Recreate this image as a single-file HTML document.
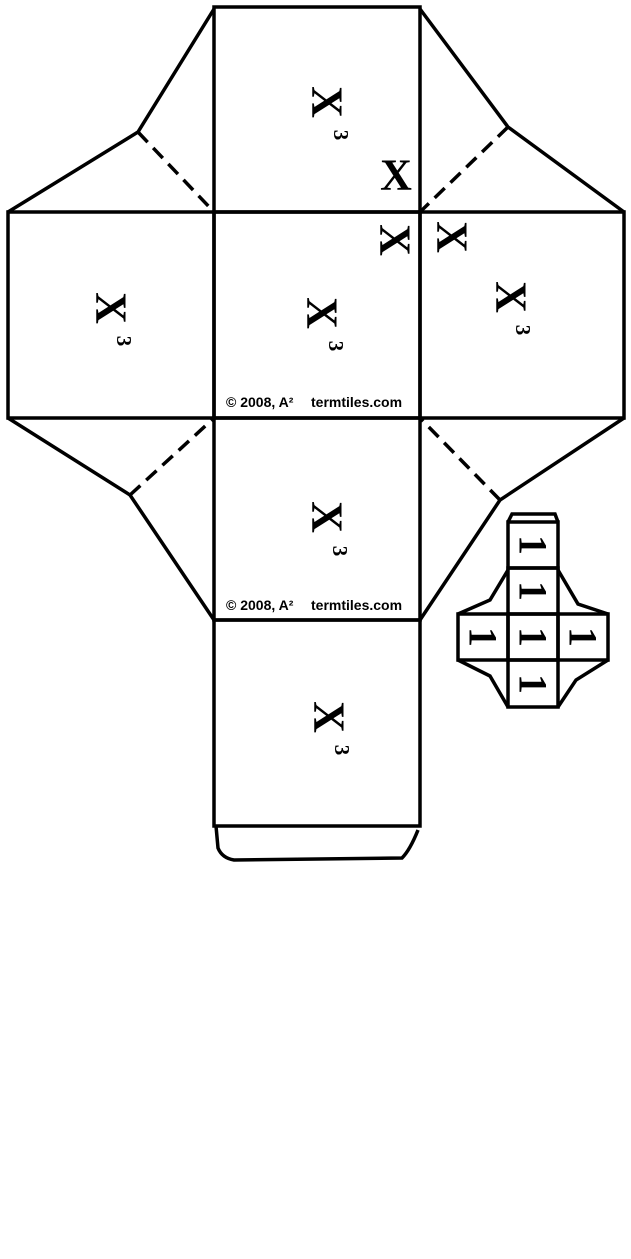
<!DOCTYPE html>
<html><head><style>
html,body{margin:0;padding:0;background:#fff;}
svg{display:block;}
.x{font-family:"Liberation Serif",serif;font-weight:bold;font-size:44px;}
.t{font-family:"Liberation Serif",serif;font-weight:bold;font-size:21px;}
.c{font-family:"Liberation Sans",sans-serif;font-weight:bold;font-size:14px;}
.o{font-family:"Liberation Serif",serif;font-weight:bold;font-size:40px;}
</style></head><body>
<svg width="631" height="1259" viewBox="0 0 631 1259" xmlns="http://www.w3.org/2000/svg">
<g fill="none" stroke="#000" stroke-width="3.5">
<rect x="214" y="7" width="206" height="205"/>
<rect x="8" y="212" width="206" height="206"/>
<rect x="214" y="212" width="206" height="206"/>
<rect x="420" y="212" width="204" height="206"/>
<rect x="214" y="418" width="206" height="202"/>
<rect x="214" y="620" width="206" height="206"/>
<path d="M216 826 L218 848 Q222 858 234 860 L402 858 Q410 850 418 830"/>
<polyline points="214,9 138,132 8,212"/>
<polyline points="420,9 508,127 624,212"/>
<polyline points="8,418 130,495 214,620"/>
<polyline points="624,418 500,500 420,620"/>
<g stroke-dasharray="14,8">
<line x1="138" y1="132" x2="214" y2="212"/>
<line x1="508" y1="127" x2="420" y2="212"/>
<line x1="130" y1="495" x2="214" y2="418"/>
<line x1="500" y1="500" x2="420" y2="418"/>
</g>
<rect x="508" y="522" width="50" height="46"/>
<rect x="508" y="568" width="50" height="46"/>
<rect x="508" y="614" width="50" height="46"/>
<rect x="508" y="660" width="50" height="47"/>
<rect x="458" y="614" width="50" height="46"/>
<rect x="558" y="614" width="50" height="46"/>
<polyline points="508,522 512,514 555,514 558,522"/>
<polyline points="508,570 490,600 458,614"/>
<polyline points="558,570 578,604 608,614"/>
<polyline points="458,660 490,676 508,707"/>
<polyline points="608,660 576,680 558,707"/>
</g>
<g fill="#000">
<text class="x" transform="translate(327,102) rotate(90)" text-anchor="middle" dominant-baseline="central">X</text>
<text class="t" transform="translate(341,135) rotate(90)" text-anchor="middle" dominant-baseline="central">3</text>
<text class="x" transform="translate(111,308) rotate(90)" text-anchor="middle" dominant-baseline="central">X</text>
<text class="t" transform="translate(124,341) rotate(90)" text-anchor="middle" dominant-baseline="central">3</text>
<text class="x" transform="translate(322,313) rotate(90)" text-anchor="middle" dominant-baseline="central">X</text>
<text class="t" transform="translate(336,346) rotate(90)" text-anchor="middle" dominant-baseline="central">3</text>
<text class="x" transform="translate(511,297) rotate(90)" text-anchor="middle" dominant-baseline="central">X</text>
<text class="t" transform="translate(523,330) rotate(90)" text-anchor="middle" dominant-baseline="central">3</text>
<text class="x" transform="translate(327,517) rotate(90)" text-anchor="middle" dominant-baseline="central">X</text>
<text class="t" transform="translate(340,551) rotate(90)" text-anchor="middle" dominant-baseline="central">3</text>
<text class="x" transform="translate(329,717) rotate(90)" text-anchor="middle" dominant-baseline="central">X</text>
<text class="t" transform="translate(342,750) rotate(90)" text-anchor="middle" dominant-baseline="central">3</text>
<text class="x" x="396" y="175" text-anchor="middle" dominant-baseline="central">X</text>
<text class="x" transform="translate(395,240) rotate(90)" text-anchor="middle" dominant-baseline="central">X</text>
<text class="x" transform="translate(452,237) rotate(90)" text-anchor="middle" dominant-baseline="central">X</text>
<text class="c" x="226" y="407">© 2008, A²</text>
<text class="c" x="311" y="407">termtiles.com</text>
<text class="c" x="226" y="610">© 2008, A²</text>
<text class="c" x="311" y="610">termtiles.com</text>
<text class="o" transform="translate(533,545) rotate(90)" text-anchor="middle" dominant-baseline="central">1</text>
<text class="o" transform="translate(533,591) rotate(90)" text-anchor="middle" dominant-baseline="central">1</text>
<text class="o" transform="translate(533,637) rotate(90)" text-anchor="middle" dominant-baseline="central">1</text>
<text class="o" transform="translate(533,684) rotate(90)" text-anchor="middle" dominant-baseline="central">1</text>
<text class="o" transform="translate(483,637) rotate(90)" text-anchor="middle" dominant-baseline="central">1</text>
<text class="o" transform="translate(583,637) rotate(90)" text-anchor="middle" dominant-baseline="central">1</text>
</g>
</svg>
</body></html>
